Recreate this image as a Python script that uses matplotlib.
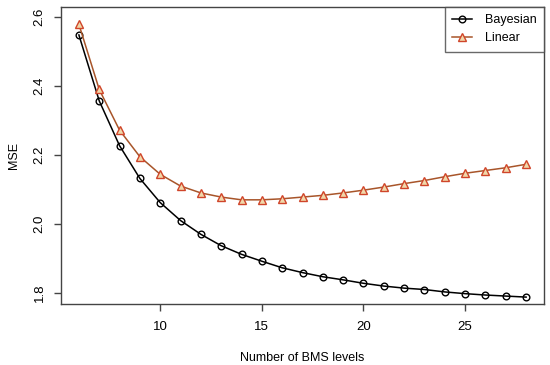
import numpy as np
import matplotlib
matplotlib.use("Agg")
import matplotlib.pyplot as plt

# BMS levels on the x axis
levels = list(range(6, 29))

# MSE values
bayesian = [2.548, 2.357, 2.227, 2.132, 2.062, 2.010, 1.970, 1.937, 1.912,
            1.892, 1.873, 1.859, 1.847, 1.838, 1.828, 1.820, 1.814, 1.810,
            1.803, 1.798, 1.794, 1.791, 1.788]
linear = [2.579, 2.390, 2.272, 2.195, 2.144, 2.110, 2.090, 2.078, 2.070,
          2.070, 2.073, 2.078, 2.083, 2.090, 2.098, 2.107, 2.117, 2.126,
          2.137, 2.147, 2.155, 2.163, 2.173]

xticks = [10, 15, 20, 25]
yticks = [1.8, 2.0, 2.2, 2.4, 2.6]

plt.rcParams['font.family'] = ['Liberation Sans', 'DejaVu Sans']

fig = plt.figure(figsize=(5.5, 3.65), dpi=100)
ax = fig.add_axes([61/550, 1 - 304/365, (544-61)/550, (304-7)/365])

ax.plot(levels, bayesian, color='black', lw=1.1, marker='o', ms=4.8,
        mfc='none', mec='black', mew=1.0, label='Bayesian')
ax.plot(levels, linear, color='#A8552A', lw=1.1, marker='^', ms=5.5,
        mfc='#F0D8AA', mec='#D0452A', mew=1.0, label='Linear')

ax.set_xlim(5.12, 28.88)
ax.set_ylim(1.768, 2.629)
ax.set_xticks(xticks)
ax.set_xticklabels([str(t) for t in xticks])
ax.set_yticks(yticks)
ax.set_yticklabels(['%.1f' % t for t in yticks], rotation=90, va='center')

for s in ax.spines.values():
    s.set_color('#444444')
    s.set_linewidth(1.0)
ax.tick_params(direction='out', length=5, width=1.0, color='#444444',
               labelsize=9.5, pad=4)
ax.tick_params(axis='x', pad=7)
ax.tick_params(axis='y', pad=6)

ax.set_xlabel('Number of BMS levels', fontsize=9, labelpad=14)
ax.set_ylabel('MSE', fontsize=9, labelpad=10)

leg = ax.legend(loc='upper right', fontsize=9, frameon=True, fancybox=False,
                borderaxespad=0, handlelength=1.6, borderpad=0.6,
                labelspacing=0.45, handletextpad=1.0)
leg.get_frame().set_edgecolor('#444444')
leg.get_frame().set_linewidth(1.0)

fig.savefig('out.png', dpi=100)
